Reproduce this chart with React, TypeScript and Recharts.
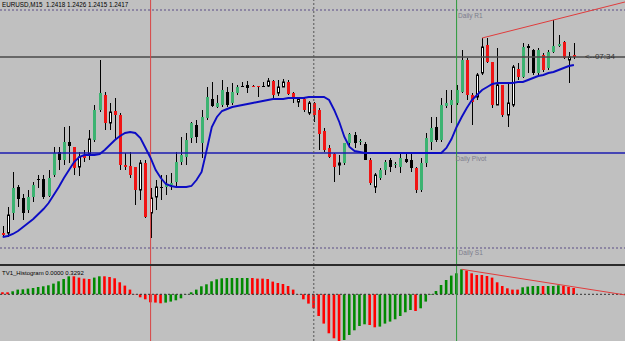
import React from "react";
import {
  ComposedChart,
  Bar,
  Line,
  XAxis,
  YAxis,
  ReferenceLine,
  ReferenceDot,
  Cell,
} from "recharts";

// EURUSD M15 candles, price levels (arbitrary price units)
const OPEN = [
  32, 32, 52, 78, 67, 55, 68, 86, 86, 69,
  90, 113, 105, 123, 118, 98, 110, 111, 125, 155,
  170, 142, 154, 150, 100, 99, 98, 75, 102, 52,
  68, 78, 78, 80, 83, 103, 108, 127, 140, 122,
  147, 166, 158, 160, 173, 162, 172, 179, 180, 179,
  179, 179, 179, 184, 172, 178, 183, 172, 163, 166,
  152, 162, 155, 134, 117, 111, 100, 102, 122, 130,
  123, 121, 105, 78, 87, 95, 105, 100, 98, 106,
  105, 97, 75, 102, 123, 138, 125, 159, 160, 162,
  173, 205, 170, 168, 192, 220, 203, 160, 180, 150,
  160, 196, 188, 219, 215, 192, 210, 197, 213, 219,
  223, 205, 210,
];
const HIGH = [
  39, 58, 93, 80, 71, 75, 83, 90, 90, 95,
  118, 118, 138, 139, 118, 113, 115, 135, 160, 205,
  173, 162, 167, 152, 112, 113, 98, 105, 105, 77,
  85, 90, 90, 92, 113, 128, 132, 143, 145, 155,
  178, 183, 170, 185, 178, 182, 180, 183, 184, 180,
  179, 183, 187, 185, 185, 186, 185, 173, 168, 167,
  164, 163, 157, 137, 120, 112, 110, 122, 132, 133,
  126, 123, 107, 92, 97, 105, 107, 103, 112, 112,
  112, 98, 107, 132, 148, 148, 167, 175, 175, 180,
  215, 207, 172, 192, 227, 227, 203, 217, 180, 182,
  200, 202, 222, 221, 216, 217, 212, 215, 245, 230,
  224, 213, 222,
];
const LOW = [
  28, 28, 45, 58, 45, 52, 63, 77, 66, 68,
  88, 95, 100, 102, 90, 89, 103, 105, 123, 153,
  135, 135, 125, 95, 95, 87, 60, 65, 47, 27,
  55, 65, 70, 75, 77, 100, 100, 122, 122, 107,
  145, 158, 157, 158, 158, 160, 170, 178, 172, 178,
  168, 178, 178, 165, 169, 178, 170, 162, 158, 153,
  150, 143, 115, 113, 107, 83, 90, 100, 118, 117,
  120, 105, 80, 72, 85, 90, 93, 97, 92, 102,
  93, 72, 73, 98, 115, 123, 123, 157, 142, 160,
  172, 165, 140, 165, 190, 202, 157, 160, 148, 138,
  158, 185, 187, 192, 190, 190, 193, 195, 212, 218,
  206, 182, 206,
];
const CLOSE = [
  30, 50, 77, 66, 52, 68, 80, 85, 68, 87,
  112, 105, 123, 119, 97, 108, 107, 126, 155, 172,
  142, 153, 150, 100, 98, 90, 75, 102, 48, 67,
  78, 77, 81, 82, 103, 110, 125, 142, 128, 148,
  168, 159, 162, 175, 160, 173, 178, 178, 177, 178,
  178, 178, 184, 170, 178, 183, 171, 166, 166, 155,
  162, 150, 131, 115, 108, 98, 102, 122, 131, 122,
  124, 105, 82, 90, 95, 103, 98, 101, 107, 103,
  97, 75, 102, 127, 137, 125, 160, 162, 165, 175,
  205, 170, 163, 190, 218, 203, 160, 180, 150, 162,
  198, 188, 218, 217, 192, 215, 195, 213, 219, 221,
  207, 208, 208,
];
// g = painted up, r = painted down, w = plain up, k = plain down
const TONES =
  "rwgkkggkkg" + "gkgkrwrwgg" + "rwrrrrrwrw" + "wkggggggkg" + "gkggkggkkr" +
  "rkwrwwrrwr" + "wrrrrrwggk" + "gkrwggkggk" + "krgggkgggg" + "grrwwrrwrw" +
  "wrgkkgrggg" + "rwr";
const MA = [
  28, 29, 31, 34, 38, 42, 46, 51, 56, 62,
  70, 78, 87, 95, 103, 108, 110, 110, 110, 111,
  115, 120, 125, 129, 132, 133, 132, 127, 117, 107,
  95, 87, 81, 79, 78, 78, 78, 79, 85, 93,
  115, 138, 148, 154, 156, 158, 159, 160, 161, 162,
  163, 164, 165, 166, 166, 166, 167, 167, 167, 167,
  168, 168, 168, 168, 165, 155, 143, 128, 118, 114,
  113, 112, 112, 112, 112, 112, 112, 112, 112, 112,
  112, 112, 112, 112, 112, 112, 112, 117, 126, 138,
  148, 157, 165, 170, 175, 178, 181, 182, 182, 182,
  182, 183, 183, 185, 187, 189, 190, 192, 193, 195,
  197, 199, 200,
];
const HIST = [
  2, 2, 3, 4.7, 5, 5.7, 6.3, 7.3, 8, 9,
  10.7, 13, 15.3, 18, 18, 16.7, 15.7, 15.3, 16.7, 18,
  18, 17.3, 16, 12, 8.7, 4.7, 0.3, -3, -5, -8,
  -8.3, -9, -8.3, -7.3, -6, -4, 0.3, 2, 4.7, 8,
  10, 13, 15, 16, 16.3, 16.3, 16.3, 16.3, 16.3, 16.3,
  15.7, 15.7, 15.3, 12.7, 11.3, 10.3, 8.3, 4.7, 0.3, -5,
  -9.3, -14, -21.7, -29.3, -39, -44, -46.7, -45.7, -40.7, -36,
  -31.7, -30, -30.7, -33, -32.3, -29.3, -27.3, -25, -21.7, -18,
  -15.7, -16.7, -14, -7.3, -0.5, 3.3, 9.3, 14.3, 18.7, 21,
  25, 23.7, 21, 19.3, 19.3, 18.3, 16.7, 12, 8.3, 6,
  4.7, 4.7, 7, 7.7, 8.3, 8.3, 8.3, 8.3, 8.3, 9,
  8.3, 7.3, 6.3,
];
const HIST_TONES =
  "rrgggggggg" + "ggggrrrrgg" + "rrrrrrrrrr" + "rrgggggggg" + "gggggggggr" +
  "rrrrrrrrrr" + "rrrrrrrggg" + "ggrrgggggg" + "grgggggggg" + "grrrrrrrrr" +
  "rrggggrggg" + "rrr";

const R1 = 255;
const PIVOT = 112;
const S1 = 17;
const LAST_PRICE = 208;
const RED_LINE_BAR = 29;
const DAY_SEPARATOR_BAR = 61;
const GREEN_LINE_BAR = 89;
const TREND_BARS = [94, 108];
const TREND_PRICES = [227, 245];
const HIST_TREND_BARS = [90, 110];
const HIST_TREND_VALUES = [25, 9];

const X_MIN = -0.53;
const X_MAX = 122.02;
const W = 625;

const FONT = "'Liberation Sans', Arial, sans-serif";
const TONE_FILL: Record<string, string> = {
  g: "#3cb371",
  r: "#f01414",
  w: "#ffffff",
  k: "#000000",
};

const candles = OPEN.map((o, i) => ({
  i,
  open: o,
  high: HIGH[i],
  low: LOW[i],
  close: CLOSE[i],
  range: [LOW[i], HIGH[i]],
  tone: TONES[i],
  ma: MA[i],
}));

const histRows = HIST.map((v, i) => ({ i, v, tone: HIST_TONES[i] }));

// extend a two-point trend line to the right edge (ray)
const rayEnd = (bars: number[], vals: number[]) =>
  vals[0] + ((vals[1] - vals[0]) / (bars[1] - bars[0])) * (X_MAX - bars[0]);

function Candle(props: any) {
  const { x, y, width, height, payload } = props;
  if (x == null || y == null || !payload) return null;
  const { open, close, high, low, tone } = payload;
  const span = high - low;
  const toY = (v: number) => (span > 0 ? y + ((high - v) / span) * height : y);
  const cx = Math.round(x + width / 2) + 0.5;
  const top = toY(Math.max(open, close));
  const bottom = toY(Math.min(open, close));
  const h = Math.max(bottom - top, 1);
  return (
    <g>
      <line x1={cx} x2={cx} y1={y} y2={y + Math.max(height, 1)} stroke="#000" strokeWidth={1} />
      {tone === "w" ? (
        <rect x={cx - 1} y={top} width={2} height={h} fill="#fff" stroke="#000" strokeWidth={1} />
      ) : (
        <rect x={cx - 1.5} y={top} width={3} height={h} fill={TONE_FILL[tone]} />
      )}
    </g>
  );
}

const tag = (text: string, dx: number, dy: number, size: number, color: string) =>
  (p: any) => {
    const vb = p.viewBox || { x: 0, y: 0 };
    return (
      <text x={vb.x + dx} y={vb.y + dy} fontSize={size} fill={color} fontFamily={FONT}>
        {text}
      </text>
    );
  };

const verticals = (
  <>
    <ReferenceLine x={RED_LINE_BAR} stroke="#d94444" strokeWidth={1} />
    <ReferenceLine x={DAY_SEPARATOR_BAR} stroke="#555" strokeDasharray="2 2" />
    <ReferenceLine x={GREEN_LINE_BAR} stroke="#2a9a3a" strokeWidth={1} />
  </>
);

export default function App() {
  return (
    <div
      style={{
        position: "fixed",
        left: 0,
        top: 0,
        width: W,
        height: 341,
        background: "#c0c0c0",
        overflow: "hidden",
      }}
    >
      <div style={{ position: "absolute", left: 0, top: 0 }}>
        <ComposedChart width={W} height={265} data={candles} margin={{ top: 0, right: 0, bottom: 0, left: 0 }}>
          <XAxis dataKey="i" type="number" domain={[X_MIN, X_MAX]} allowDataOverflow hide />
          <YAxis type="number" domain={[0, 265]} allowDataOverflow hide />
          <ReferenceLine y={R1} stroke="#5b4d86" strokeDasharray="2 2" />
          <ReferenceLine y={S1} stroke="#5b4d86" strokeDasharray="2 2" />
          <ReferenceLine y={PIVOT} stroke="#1c1cb0" strokeWidth={1.3} />
          <ReferenceLine y={LAST_PRICE} stroke="#4a4a4a" strokeWidth={1.5} />
          {verticals}
          <Bar dataKey="range" barSize={3} shape={<Candle />} activeBar={false} isAnimationActive={false} />
          <Line
            dataKey="ma"
            type="linear"
            stroke="#0c0cc4"
            strokeWidth={1.9}
            dot={false}
            activeDot={false}
            isAnimationActive={false}
          />
          <ReferenceLine
            segment={[
              { x: TREND_BARS[0], y: TREND_PRICES[0] },
              { x: X_MAX, y: rayEnd(TREND_BARS, TREND_PRICES) },
            ]}
            stroke="#e03c3c"
            ifOverflow="visible"
          />
          <ReferenceDot x={GREEN_LINE_BAR} y={R1} r={0} fill="none" stroke="none"
            label={tag("Daily R1", 1.5, 7.5, 6.5, "#7c7c8c")} />
          <ReferenceDot x={GREEN_LINE_BAR} y={PIVOT} r={0} fill="none" stroke="none"
            label={tag("Daily Pivot", -1, 8, 6.5, "#7c7c8c")} />
          <ReferenceDot x={GREEN_LINE_BAR} y={S1} r={0} fill="none" stroke="none"
            label={tag("Daily S1", 2, 6.5, 6.5, "#7c7c8c")} />
          <ReferenceDot x={candles.length - 1} y={LAST_PRICE} r={0} fill="none" stroke="none"
            label={tag("<--07:34", 11, 1.5, 8, "#333")} />
        </ComposedChart>
      </div>

      <div style={{ position: "absolute", left: 0, top: 264, width: W, height: 2, background: "#2b2b2b" }} />

      <div style={{ position: "absolute", left: 0, top: 266 }}>
        <ComposedChart width={W} height={75} data={histRows} margin={{ top: 0, right: 0, bottom: 0, left: 0 }}>
          <XAxis dataKey="i" type="number" domain={[X_MIN, X_MAX]} allowDataOverflow hide />
          <YAxis type="number" domain={[-46.7, 28.3]} allowDataOverflow hide />
          <ReferenceLine y={0} stroke="#333" strokeDasharray="2 2" />
          {verticals}
          <Bar dataKey="v" barSize={2.6} activeBar={false} isAnimationActive={false}>
            {histRows.map((r) => (
              <Cell key={r.i} fill={r.tone === "g" ? "#008a00" : "#ff0000"} />
            ))}
          </Bar>
          <ReferenceLine
            segment={[
              { x: HIST_TREND_BARS[0], y: HIST_TREND_VALUES[0] },
              { x: X_MAX, y: rayEnd(HIST_TREND_BARS, HIST_TREND_VALUES) },
            ]}
            stroke="#e03c3c"
            ifOverflow="visible"
          />
        </ComposedChart>
      </div>

      <div style={{ position: "absolute", left: 2, top: 2, fontSize: 6.3, lineHeight: 1, fontFamily: FONT, color: "#000", whiteSpace: "pre" }}>
        EURUSD,M15  1.2418 1.2426 1.2415 1.2417
      </div>
      <div style={{ position: "absolute", left: 2, top: 269.5, fontSize: 6, lineHeight: 1, fontFamily: FONT, color: "#000", whiteSpace: "pre" }}>
        TV1_Histogram 0.0000 0.3292
      </div>
    </div>
  );
}
